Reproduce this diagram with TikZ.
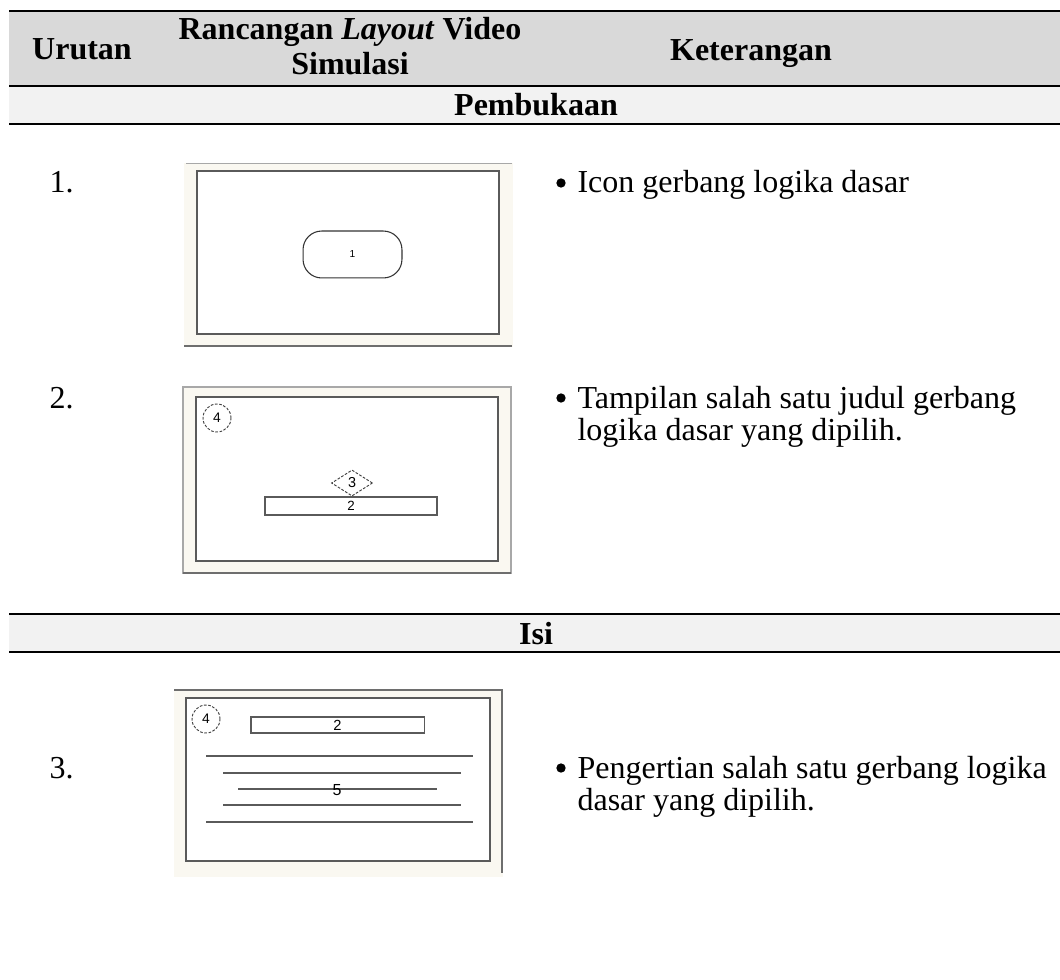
\documentclass[tikz,border=0pt]{standalone}
\usepackage{fontspec}
\setmainfont{Liberation Serif}
\newfontfamily\mockfont{Liberation Sans}
\usetikzlibrary{shapes.geometric}

\definecolor{headgray}{HTML}{D9D9D9}
\definecolor{bandgray}{HTML}{F2F2F2}
\definecolor{cream}{HTML}{FAF8F1}
\definecolor{edgelight}{HTML}{A8A8A8}
\definecolor{edgedark}{HTML}{6E6E6E}
\definecolor{boxline}{HTML}{5A5A5A}

\tikzset{
  rule/.style={line width=0.75pt, black},
  hdr/.style={font=\bfseries\fontsize{12}{12}\selectfont, inner sep=0pt, anchor=base},
  body/.style={font=\fontsize{12}{12}\selectfont, inner sep=0pt, anchor=base west},
  bul/.style={circle, fill=black, inner sep=0pt, minimum size=3.5pt},
  mock/.style={font=\mockfont\fontsize{5}{5}\selectfont, inner sep=0pt},
  screen/.style={draw=boxline, fill=white, line width=0.4pt},
  mockline/.style={draw=boxline, line width=0.4pt},
  pill/.style={mock, draw=black!80, line width=0.4pt, rounded corners=7pt,
               minimum width=37.1pt, minimum height=17.6pt, font=\mockfont\fontsize{3.8}{4}\selectfont},
  badge/.style={mock, circle, draw=black!75, dashed, dash pattern=on 1pt off 0.6pt,
                line width=0.35pt, minimum size=10.5pt, font=\mockfont\fontsize{5.2}{5.2}\selectfont},
  gem/.style={mock, diamond, draw=black!75, dash pattern=on 1pt off 0.6pt,
              line width=0.35pt, minimum width=15.4pt, minimum height=9.8pt,
              font=\mockfont\fontsize{5.4}{5.4}\selectfont},
  titlebar/.style={mock, draw=boxline, line width=0.4pt, fill=white},
}

\begin{document}
\begin{tikzpicture}[x=0.375pt, y=-0.375pt]
\useasboundingbox (0,0) rectangle (1060,979);

% ---------- table head ----------
\fill[headgray] (9,11) rectangle (1060,86);
\fill[bandgray] (9,86) rectangle (1060,124);
\draw[rule] (9,11) -- (1060,11);
\draw[rule] (9,86) -- (1060,86);
\draw[rule] (9,124) -- (1060,124);

\node[hdr] (hUrut) at (82,60) {Urutan};
\node[hdr] (hRanc1) at (350,40) {Rancangan \textit{Layout} Video};
\node[hdr] (hRanc2) at (350,75) {Simulasi};
\node[hdr] (hKet) at (751,61) {Keterangan};
\node[hdr] (hBuka) at (536,116) {Pembukaan};

% ---------- section "Isi" ----------
\fill[bandgray] (9,614) rectangle (1060,652);
\draw[rule] (9,614) -- (1060,614);
\draw[rule] (9,652) -- (1060,652);
\node[hdr] (hIsi) at (536,644) {Isi};

% ---------- row 1 ----------
\node[body] (n1) at (49,193) {1.};
\fill[cream] (184,163) rectangle (513,347);
\draw[edgelight, line width=0.5pt] (186,163.5) -- (512,163.5);
\draw[edgedark, line width=0.6pt] (184,346) -- (512,346);
\draw[screen] (197,171) rectangle (499,334);
\node[pill] (s1icon) at (352.5,254.5) {1};
\node[bul] (b1) at (561,183) {};
\node[body] (t1) at (577,193) {Icon gerbang logika dasar};

% ---------- row 2 ----------
\node[body] (n2) at (49,408) {2.};
\filldraw[fill=cream, draw=edgelight, line width=0.5pt] (183,387) rectangle (511,573);
\draw[edgedark, line width=0.6pt] (183,573) -- (511,573);
\draw[screen] (196,397) rectangle (498,561);
\node[badge] (s2four) at (217,418) {4};
\node[gem] (s2three) at (352,483) {3};
\node[titlebar, minimum width=64.5pt, minimum height=6.75pt,
      font=\mockfont\fontsize{5}{5}\selectfont] (s2two) at (351,506) {2};
\node[bul] (b2) at (561,398) {};
\node[body] (t2a) at (577,408) {Tampilan salah satu judul gerbang};
\node[body] (t2b) at (577,440) {logika dasar yang dipilih.};

% ---------- row 3 ----------
\node[body] (n3) at (49,778) {3.};
\fill[cream] (174,690) rectangle (503,877);
\draw[edgedark, line width=0.6pt] (174,690) -- (502,690) -- (502,873);
\draw[screen] (186,698) rectangle (490,861);
\node[badge] (s3four) at (206,719) {4};
\node[titlebar, minimum width=64.9pt, minimum height=6pt,
      font=\mockfont\fontsize{5.5}{5.5}\selectfont] (s3two) at (337.5,725) {2};
\draw[mockline] (206,756) -- (473,756);
\draw[mockline] (223,773) -- (461,773);
\draw[mockline] (238,789) -- (437,789);
\draw[mockline] (223,805) -- (461,805);
\draw[mockline] (206,822) -- (473,822);
\node[mock, font=\mockfont\fontsize{6}{6}\selectfont] (s3five) at (337,790) {5};
\node[bul] (b3) at (561,768) {};
\node[body] (t3a) at (577,778) {Pengertian salah satu gerbang logika};
\node[body] (t3b) at (577,810) {dasar yang dipilih.};
\end{tikzpicture}
\end{document}
